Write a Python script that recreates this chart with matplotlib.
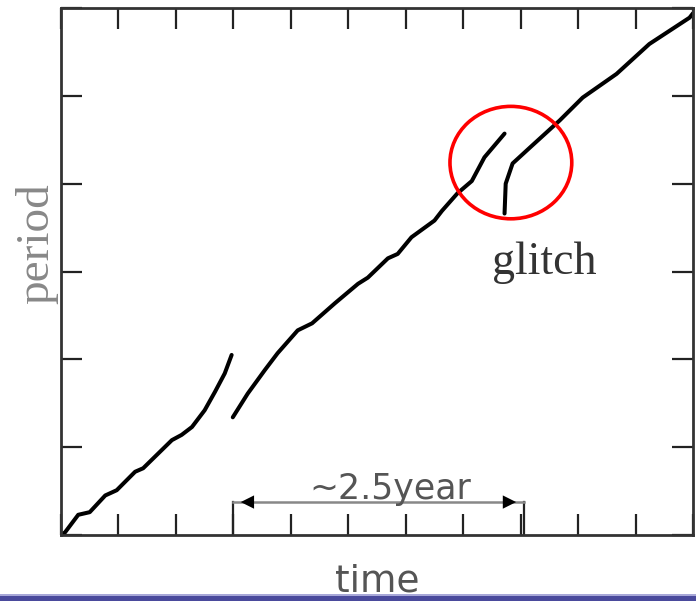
import matplotlib
matplotlib.use("Agg")
import matplotlib.pyplot as plt
from matplotlib.patches import Ellipse, Rectangle

# --- data ---
seg1_time = [0.00, 0.07, 0.30, 0.50, 0.77, 0.97, 1.29, 1.43, 1.93, 2.10, 2.28, 2.50, 2.68, 2.85, 2.97]
seg1_period = [0.00, 0.03, 0.23, 0.26, 0.45, 0.51, 0.72, 0.76, 1.08, 1.14, 1.23, 1.42, 1.63, 1.84, 2.05]

seg2_time = [2.99, 3.25, 3.55, 3.77, 4.12, 4.37, 4.77, 5.17, 5.34, 5.69, 5.86, 6.10, 6.50,
             6.63, 6.90, 7.15, 7.37, 7.72]
seg2_period = [1.34, 1.61, 1.88, 2.07, 2.33, 2.41, 2.64, 2.86, 2.93, 3.15, 3.20, 3.39, 3.58,
               3.69, 3.89, 4.03, 4.30, 4.57]

seg3_time = [7.72, 7.74, 7.86, 8.16, 8.68, 9.08, 9.67, 10.24, 10.94, 11.00]
seg3_period = [3.66, 4.00, 4.23, 4.41, 4.72, 4.98, 5.25, 5.59, 5.89, 5.94]

x_ticks = list(range(0, 12))
y_ticks = list(range(0, 7))

span_start, span_end, span_level = 3.0, 8.05, 0.375
span_label = "~2.5year"
glitch_center = (7.83, 4.24)

fig = plt.figure(figsize=(6.96, 6.01), dpi=100)
ax = fig.add_axes([61 / 696, 66 / 601, 632 / 696, 527 / 601])

for t, p in [(seg1_time, seg1_period), (seg2_time, seg2_period), (seg3_time, seg3_period)]:
    ax.plot(t, p, color="black", lw=2.9, solid_capstyle="round", solid_joinstyle="round")

ax.set_xlim(0, 11)
ax.set_ylim(0, 6)
ax.set_xticks(x_ticks)
ax.set_yticks(y_ticks)
ax.tick_params(direction="in", length=15, width=1.6, color="#222222",
               top=True, right=True, labelbottom=False, labelleft=False)
for s in ax.spines.values():
    s.set_linewidth(2.0)
    s.set_color("#333333")

# glitch circle
ax.add_patch(Ellipse(glitch_center, 2.12, 1.28, fill=False, edgecolor="red", lw=2.6, zorder=5))
ax.text(8.42, 3.10, "glitch", family="Liberation Serif", fontsize=33, color="#333333",
        ha="center", va="center")

# ~2.5 year bracket
ax.plot([span_start, span_start], [0, span_level], color="#222222", lw=1.6)
ax.plot([span_end, span_end], [0, span_level], color="#222222", lw=1.6)
ax.plot([span_start, span_end], [span_level, span_level], color="#888888", lw=1.8)
ax.annotate("", xy=(span_start + 0.08, span_level), xytext=(span_start + 0.5, span_level),
            arrowprops=dict(arrowstyle="-|>", color="black", lw=0, mutation_scale=24))
ax.annotate("", xy=(span_end - 0.08, span_level), xytext=(span_end - 0.5, span_level),
            arrowprops=dict(arrowstyle="-|>", color="black", lw=0, mutation_scale=24))
ax.text((span_start + span_end) / 2 + 0.2, span_level - 0.04, span_label, fontsize=25,
        color="#555555", ha="center", va="bottom", family="DejaVu Sans")

ax.set_ylabel("period", family="Liberation Serif", fontsize=34, color="#888888")
ax.yaxis.set_label_coords(-0.004, 0.553)
ax.set_xlabel("time", family="DejaVu Sans", fontsize=27, color="#555555", va="baseline")
ax.xaxis.set_label_coords(0.5, -0.108)

# blue band at bottom
fig.patches.append(Rectangle((0, 0), 1, 6 / 601, transform=fig.transFigure,
                             facecolor="#4a4a9c", edgecolor="none", zorder=10))
fig.patches.append(Rectangle((0, 5 / 601), 1, 2 / 601, transform=fig.transFigure,
                             facecolor="#a8a8d8", edgecolor="none", zorder=10))

fig.savefig("out.png", dpi=100)
